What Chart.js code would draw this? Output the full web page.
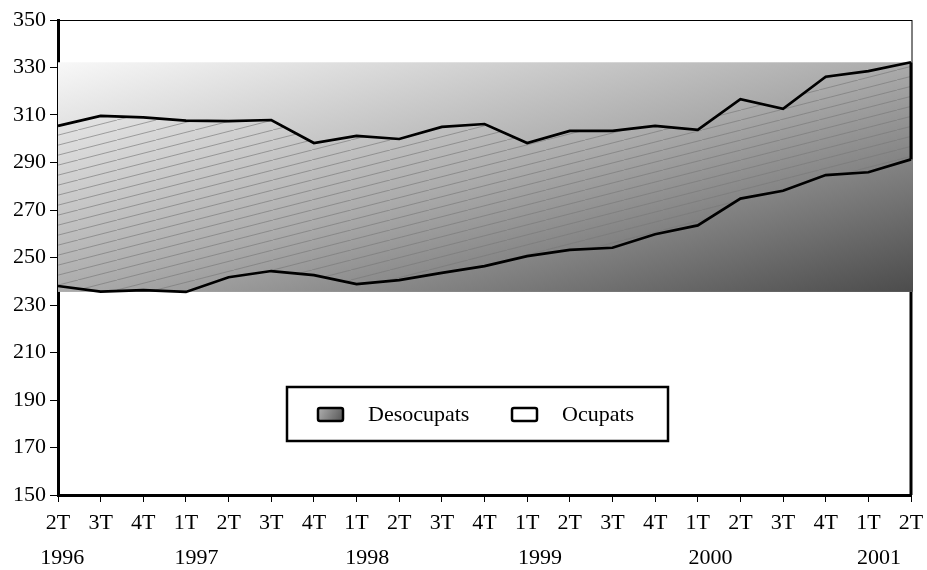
<!DOCTYPE html>
<html>
<head>
<meta charset="utf-8">
<script src="https://cdn.jsdelivr.net/npm/chart.js@4.4.1/dist/chart.umd.min.js"></script>
<style>
  html, body { margin: 0; padding: 0; background: #fff; }
  #wrap { width: 927px; height: 570px; }
</style>
</head>
<body>
<div id="wrap"><canvas id="myChart" width="927" height="570"></canvas></div>
<script>
// quarter labels on the x axis
const quarters = ['2T','3T','4T','1T','2T','3T','4T','1T','2T','3T','4T',
                  '1T','2T','3T','4T','1T','2T','3T','4T','1T','2T'];
// year labels and where they sit (in category units)
const years = ['1996','1997','1998','1999','2000','2001'];
const yearPos = [0.1, 3.25, 7.25, 11.3, 15.3, 19.25];

// Ocupats (lower line) and Desocupats (stacked on top)
const ocupats = [238.0, 235.6, 236.3, 235.5, 241.7, 244.3, 242.6, 238.8, 240.5, 243.5, 246.4,
                 250.6, 253.2, 254.1, 259.8, 263.5, 274.8, 278.1, 284.7, 285.9, 291.3];
const desocupats = [67.4, 74.0, 72.7, 72.1, 65.7, 63.6, 55.6, 62.4, 59.4, 61.5, 59.8,
                    47.6, 50.1, 49.2, 45.6, 40.2, 41.9, 34.5, 41.4, 42.6, 40.9];

const FONT = '"Liberation Serif", "Times New Roman", serif';

// hatch pattern for the Desocupats area
function makeHatch(ctx) {
    const c = document.createElement('canvas');
    c.width = 39; c.height = 10;
    const g = c.getContext('2d');
    g.strokeStyle = 'rgba(120,120,120,0.8)';
    g.lineWidth = 0.8;
    for (let k = -1; k <= 1; k++) {
        g.beginPath();
        g.moveTo(k * 39, 10 - k * 10);
        g.lineTo(k * 39 + 39, 0 - k * 10);
        g.stroke();
    }
    return ctx.createPattern(c, 'repeat');
}

// gradient band behind the areas + frame pieces
const bandPlugin = {
    id: 'band',
    beforeDatasetsDraw(chart) {
        const {ctx, chartArea: a, scales: {y}} = chart;
        const totals = ocupats.map((v, i) => v + desocupats[i]);
        const top = y.getPixelForValue(Math.max(...totals));
        const bottom = y.getPixelForValue(Math.min(...ocupats));
        const W = a.right - a.left, H = bottom - top, L2 = W * W + H * H;
        const f = 2 * W * H / L2;
        const grad = ctx.createLinearGradient(a.left, top, a.left + H * f, top + W * f);
        grad.addColorStop(0, '#f8f8f8');
        grad.addColorStop(0.5, '#ababab');
        grad.addColorStop(1, '#4c4c4c');
        ctx.save();
        ctx.strokeStyle = '#000';
        // top and upper right border (thin)
        ctx.lineWidth = 1;
        ctx.beginPath();
        ctx.moveTo(a.left, a.top + 0.5);
        ctx.lineTo(a.right + 1, a.top + 0.5);
        ctx.moveTo(a.right + 1, a.top);
        ctx.lineTo(a.right + 1, top);
        ctx.stroke();
        // lower right border (thick)
        ctx.lineWidth = 3;
        ctx.beginPath();
        ctx.moveTo(a.right, bottom);
        ctx.lineTo(a.right, a.bottom);
        ctx.stroke();
        ctx.fillStyle = grad;
        ctx.fillRect(a.left, top, W + 2, H);
        ctx.restore();
    },
    afterDatasetsDraw(chart) {
        // closing edge of the Desocupats area on the right
        const {ctx} = chart;
        const lo = chart.getDatasetMeta(0).data;
        const hi = chart.getDatasetMeta(1).data;
        const n = lo.length - 1;
        ctx.save();
        ctx.strokeStyle = '#000';
        ctx.lineWidth = 3;
        ctx.beginPath();
        ctx.moveTo(hi[n].x, hi[n].y);
        ctx.lineTo(lo[n].x, lo[n].y);
        ctx.stroke();
        ctx.restore();
    },
    afterDraw(chart) {
        const {ctx, chartArea: a, scales: {x}} = chart;
        ctx.save();
        // year labels
        ctx.fillStyle = '#000';
        ctx.font = '22px ' + FONT;
        ctx.textAlign = 'center';
        ctx.textBaseline = 'middle';
        years.forEach((yr, i) => {
            const px = x.getPixelForValue(0) + yearPos[i] * (x.getPixelForValue(1) - x.getPixelForValue(0));
            ctx.fillText(yr, px, 558);
        });
        // legend box
        const bx = a.left + 229, by = 387, bw = 381, bh = 54;
        ctx.fillStyle = '#fff';
        ctx.fillRect(bx, by, bw, bh);
        ctx.lineWidth = 2.5;
        ctx.strokeStyle = '#000';
        ctx.strokeRect(bx, by, bw, bh);
        const items = [
            {label: chart.data.datasets[1].label, sx: bx + 31, tx: bx + 81, dark: true},
            {label: chart.data.datasets[0].label, sx: bx + 225, tx: bx + 275, dark: false}
        ];
        items.forEach(it => {
            const sy = by + 21;
            if (it.dark) {
                const g = ctx.createLinearGradient(it.sx, sy, it.sx + 25, sy + 13);
                g.addColorStop(0, '#b0b0b0');
                g.addColorStop(1, '#555');
                ctx.fillStyle = g;
            } else {
                ctx.fillStyle = '#fff';
            }
            ctx.beginPath();
            ctx.roundRect(it.sx, sy, 25, 13, 2);
            ctx.fill();
            ctx.lineWidth = 2.5;
            ctx.stroke();
            ctx.fillStyle = '#000';
            ctx.textAlign = 'left';
            ctx.fillText(it.label, it.tx, sy + 7);
        });
        ctx.restore();
    }
};

function drawChart() {
    const ctx = document.getElementById('myChart').getContext('2d');
    new Chart(ctx, {
        type: 'line',
        data: {
            labels: quarters,
            datasets: [{
                label: 'Ocupats',
                data: ocupats,
                borderColor: '#000',
                borderWidth: 2.7,
                backgroundColor: '#fff',
                fill: false,
                pointRadius: 0,
                tension: 0
            }, {
                label: 'Desocupats',
                data: desocupats,
                borderColor: '#000',
                borderWidth: 2.7,
                backgroundColor: makeHatch(ctx),
                fill: '-1',
                pointRadius: 0,
                tension: 0
            }]
        },
        options: {
            responsive: false,
            animation: false,
            layout: { padding: { top: 20, right: 16, left: 0, bottom: 0 } },
            plugins: {
                legend: { display: false },
                tooltip: { enabled: false }
            },
            scales: {
                x: {
                    offset: false,
                    grid: { drawOnChartArea: false, color: '#000', tickLength: 7, lineWidth: 1 },
                    border: { display: true, color: '#000', width: 3 },
                    ticks: { color: '#000', font: { family: FONT, size: 22 }, padding: 8,
                             maxRotation: 0, autoSkip: false },
                    afterFit(scale) {
                        scale.height = 75;
                        scale.paddingRight = 0;
                        scale.paddingLeft = 0;
                    }
                },
                y: {
                    stacked: true,
                    min: 150,
                    max: 350,
                    grid: { drawOnChartArea: false, color: '#000', tickLength: 8, lineWidth: 1 },
                    border: { display: true, color: '#000', width: 3 },
                    ticks: { stepSize: 20, color: '#000', font: { family: FONT, size: 22 }, padding: 4 },
                    afterFit(scale) {
                        scale.width = 58;
                        scale.paddingTop = 0;
                        scale.paddingBottom = 0;
                    }
                }
            }
        },
        plugins: [bandPlugin]
    });
}

document.addEventListener("DOMContentLoaded", () => {
    drawChart();
});
</script>
</body>
</html>
